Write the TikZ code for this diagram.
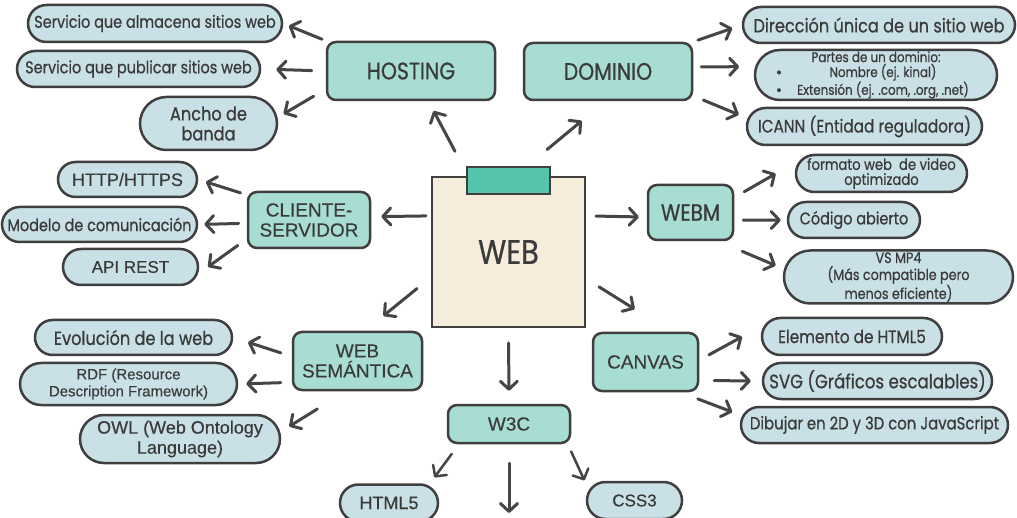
\documentclass[tikz,border=0pt]{standalone}
\usepackage{fontspec}
\setmainfont[FakeBold=0.3]{Liberation Sans}
\newfontfamily\poppinsf[FakeStretch=0.85,FakeBold=0.6]{Poppins}
\usetikzlibrary{shapes.misc,arrows.meta}
\definecolor{bd}{HTML}{3F3F3F}
\definecolor{tealbox}{HTML}{A8DDD3}
\definecolor{bluebox}{HTML}{C8E0E6}
\definecolor{cream}{HTML}{F5ECDB}
\definecolor{tabc}{HTML}{55C4AD}
\definecolor{txt}{HTML}{3A3A3A}
\definecolor{ar}{HTML}{454545}
\newcommand\RndF[2]{\poppinsf\fontsize{#1}{#2}\selectfont}
\newcommand\ArlF[2]{\rmfamily\fontsize{#1}{#2}\selectfont}
\tikzset{
  sz/.style 2 args={minimum width=#1pt, minimum height=#2pt},
  main/.style={draw=bd, fill=tealbox, line width=2.5pt, rounded corners=9pt, inner sep=0pt, align=center, text=txt},
  leaf/.style={draw=bd, fill=bluebox, line width=2.5pt, rounded rectangle, inner sep=0pt, align=center, text=txt},
  webbox/.style={draw=bd, fill=cream, line width=2pt, inner sep=0pt, text=txt},
  tabbox/.style={draw=bd, fill=tabc, line width=2pt, inner sep=0pt},
  arr/.style={draw=ar, line width=3pt, line cap=round, -{Straight Barb[length=8pt,width=17pt,round]}},
}
\begin{document}
\begin{tikzpicture}[x=1pt,y=-1pt]
\fill[white] (0,0) rectangle (1017,518);
\useasboundingbox (0,0) rectangle (1017,518);
% central
\node[webbox, sz={153}{150}, font=\RndF{34}{36}] (web) at (508.5,252) {WEB};
\node[tabbox, sz={83}{27}] (tab) at (508.5,180.5) {};
% main topics
\node[main, sz={168}{58}, font=\RndF{24}{26}] (host) at (411,71) {HOSTING};
\node[main, sz={168}{57}, font=\RndF{24}{26}] (dom) at (608,71.5) {DOMINIO};
\node[main, sz={122}{56}, font=\ArlF{19}{20}] (cli) at (309,220) {CLIENTE-\\SERVIDOR};
\node[main, sz={85}{55}, font=\RndF{23.5}{26}] (webm) at (690.5,212.5) {WEBM};
\node[main, sz={129}{58}, font=\ArlF{19}{20}] (sem) at (357.5,361) {WEB\\SEMÁNTICA};
\node[main, sz={105}{58}, font=\ArlF{19}{22}] (canvas) at (645.5,362) {CANVAS};
\node[main, sz={122}{38}, font=\ArlF{19}{22}] (w3c) at (509,424) {W3C};
% leaves
\node[leaf, sz={254}{37}, font=\RndF{17}{20}] (alm) at (155,23.5) {Servicio que almacena sitios web};
\node[leaf, sz={243}{36}, font=\RndF{17}{20}] (pub) at (138.5,69) {Servicio que publicar sitios web};
\node[leaf, sz={137}{53}, font=\RndF{19}{20}] (ancho) at (208.5,123.5) {Ancho de\\banda};
\node[leaf, sz={272}{36}, font=\RndF{19}{22}] (dir) at (879,25) {Dirección única de un sitio web};
\node[leaf, sz={242}{50}, font=\RndF{14}{15}] (partes) at (876,75) {Partes de un dominio:\\\makebox[14pt][l]{\rmfamily •}\makebox[185pt][c]{Nombre (ej. kinal)}\\\makebox[14pt][l]{\rmfamily •}\makebox[185pt][c]{Extensión (ej. .com, .org, .net)}};
\node[leaf, sz={235}{37}, font=\RndF{18}{20}] (icann) at (864.5,126.5) {ICANN (Entidad reguladora)};
\node[leaf, sz={139}{35}, font=\ArlF{18}{20}] (http) at (127.5,179.5) {HTTP/HTTPS};
\node[leaf, sz={195}{35}, font=\RndF{17}{20}] (modelo) at (99.5,224.5) {Modelo de comunicación};
\node[leaf, sz={135}{36}, font=\ArlF{17}{20}] (api) at (130.5,267) {API REST};
\node[leaf, sz={171}{37}, font=\RndF{15.5}{15}] (formato) at (881.5,173.5) {formato web\ \ de video\\optimizado};
\node[leaf, sz={132}{36}, font=\RndF{17}{20}] (codigo) at (854,220) {Código abierto};
\node[leaf, sz={229}{53}, font=\RndF{15}{17}] (vs) at (898.5,277) {VS MP4\\(Más compatible pero\\menos eficiente)};
\node[leaf, sz={197}{35}, font=\RndF{19}{20}] (evol) at (133.5,337.5) {Evolución de la web};
\node[leaf, sz={217}{42}, font=\ArlF{15}{17}] (rdf) at (128.5,384) {RDF (Resource\\Description Framework)};
\node[leaf, sz={200}{48}, font=\ArlF{18}{20}] (owl) at (180,439) {OWL (Web Ontology\\Language)};
\node[leaf, sz={180}{37}, font=\RndF{18}{20}] (elem) at (852,336.5) {Elemento de HTML5};
\node[leaf, sz={229}{36}, font=\RndF{19.5}{22}] (svg) at (877.5,381) {SVG (Gráficos escalables)};
\node[leaf, sz={267}{36}, font=\RndF{17.5}{20}] (dib) at (874.5,425) {Dibujar en 2D y 3D con JavaScript};
\node[leaf, sz={98}{37}, font=\ArlF{18}{20}] (html5) at (389,503) {HTML5};
\node[leaf, sz={95}{37}, font=\ArlF{17}{20}] (css3) at (634.5,500.5) {CSS3};
\coordinate (w3cdown) at (509,513);
% connectors
\draw[arr, shorten <=28pt, shorten >=11pt] (web.118) -- (host.300);
\draw[arr, shorten <=41.5pt, shorten >=30.7pt] (web.85) -- (dom.265);
\draw[arr, shorten <=4pt, shorten >=6pt] (host.north west) -- (alm.east);
\draw[arr, shorten <=14pt, shorten >=15pt] (host.west) -- (pub.east);
\draw[arr, shorten <=14pt, shorten >=7pt] (host.192) -- (ancho.5);
\draw[arr, shorten <=5pt, shorten >=10pt] (dom.north east) -- (dir.west);
\draw[arr, shorten <=8pt, shorten >=16pt] (dom.3) -- (partes.176);
\draw[arr, shorten <=11pt, shorten >=9.5pt] (dom.-16) -- (icann.176);
\draw[arr, shorten <=5pt, shorten >=10pt] (web.155) -- (cli.3);
\draw[arr, shorten <=6.5pt, shorten >=8pt] (cli.158) -- (http.east);
\draw[arr, shorten <=8pt, shorten >=6pt] (cli.183) -- (modelo.east);
\draw[arr, shorten <=11pt, shorten >=12.4pt] (cli.197) -- (api.-6);
\draw[arr, shorten <=18pt, shorten >=23.5pt] (web.198) -- (sem.76);
\draw[arr, shorten <=11.5pt, shorten >=15.5pt] (sem.176) -- (evol.east);
\draw[arr, shorten <=11pt, shorten >=8pt] (sem.198) -- (rdf.east);
\draw[arr, shorten <=33.6pt, shorten >=10.5pt] (sem.249) -- (owl.4);
\draw[arr, shorten <=10pt, shorten >=8pt] (web.25) -- (webm.186);
\draw[arr, shorten <=11.5pt, shorten >=29pt] (webm.19) -- (formato.170);
\draw[arr, shorten <=9pt, shorten >=6pt] (webm.-10) -- (codigo.west);
\draw[arr, shorten <=26pt, shorten >=9pt] (webm.-46) -- (vs.176);
\draw[arr, shorten <=15.4pt, shorten >=42.7pt] (web.-19) -- (canvas.50);
\draw[arr, shorten <=11pt, shorten >=26pt] (canvas.2) -- (elem.172);
\draw[arr, shorten <=15pt, shorten >=11pt] (canvas.-19) -- (svg.west);
\draw[arr, shorten <=18.7pt, shorten >=10.5pt] (canvas.-41) -- (dib.176);
\draw[arr, shorten <=15pt, shorten >=13pt] (web.south) -- (w3c.north);
\draw[arr, line width=2.5pt, shorten <=12pt, shorten >=10pt] (w3c.202) -- (html5.24);
\draw[arr, shorten <=19pt] (w3c.south) -- (w3cdown);
\draw[arr, line width=2.5pt, shorten <=8pt, shorten >=10.5pt] (w3c.-19) -- (css3.167);
\end{tikzpicture}
\end{document}
